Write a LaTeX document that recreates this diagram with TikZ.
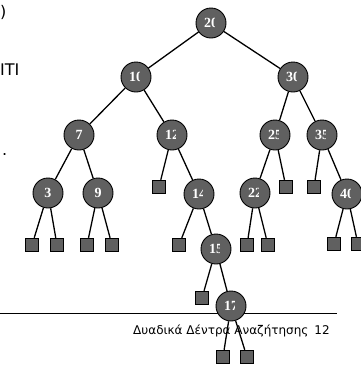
\documentclass[tikz,border=0pt]{standalone}
\usepackage{fontspec}
\setmainfont{Liberation Serif}
\newfontfamily\grk{DejaVu Sans}
\usetikzlibrary{calc}
\definecolor{nodegray}{RGB}{96,96,96}
\tikzset{
 keynode/.style={circle, draw=black, line width=0.9pt, fill=nodegray, minimum size=30pt, inner sep=0pt},
 leafnode/.style={rectangle, draw=black, line width=0.9pt, fill=nodegray, minimum size=13.5pt, inner sep=0pt},
 keytext/.style={text=white, font=\fontsize{14}{14}\selectfont\bfseries, inner sep=0pt},
 edge/.style={line width=1.3pt, black},
 slidetext/.style={font=\grk\fontsize{16}{16}\selectfont, inner sep=0pt, anchor=base west},
 foottext/.style={font=\grk\fontsize{12}{14}\selectfont, inner sep=0pt, anchor=base west},
}
\newcommand\keynd[3]{\node[keynode] (#1) at (#2) {};
 \begin{scope}
 \clip ($(#1.center)+(-14,-10)$) rectangle ($(#1.center)+(3,10)$);
 \node[keytext] at (#1.center) {#3};
 \end{scope}}
\begin{document}
\begin{tikzpicture}[x=1pt,y=-1pt]
\useasboundingbox (0,0) rectangle (361,365);
% slide fragments
\node[slidetext] (t1) at (0,17) {)};
\node[slidetext] (t2) at (0,75) {ΙΤΙ};
\node[slidetext] (t3) at (2,155) {.};
\draw[line width=0.8pt] (0,313) coordinate (f1) -- (337,313) coordinate (f2);
\node[foottext] (ft) at (133,334) {Δυαδικά Δέντρα Αναζήτησης\hspace{6pt}12};
% keys
\keynd{n20}{211,23}{20}
\keynd{n10}{136,77}{10}
\keynd{n30}{293,77}{30}
\keynd{n7}{79,135}{7}
\keynd{n12}{172,135}{12}
\keynd{n25}{275,135}{25}
\keynd{n35}{322,135}{35}
\keynd{n3}{48,193}{3}
\keynd{n9}{98,193}{9}
\keynd{n14}{199,194}{14}
\keynd{n22}{255,193}{22}
\keynd{n40}{347,194}{40}
\keynd{n15}{216,249}{15}
\keynd{n17}{231,306}{17}
% leaves
\node[leafnode] (a1) at (32,245) {};
\node[leafnode] (a2) at (57,245) {};
\node[leafnode] (a3) at (87,245) {};
\node[leafnode] (a4) at (112,245) {};
\node[leafnode] (l12) at (159,187) {};
\node[leafnode] (l14) at (179,245) {};
\node[leafnode] (l15) at (202,298) {};
\node[leafnode] (a5) at (223,357) {};
\node[leafnode] (a6) at (247,357) {};
\node[leafnode] (b1) at (247,245) {};
\node[leafnode] (b2) at (268,245) {};
\node[leafnode] (l25) at (286,187) {};
\node[leafnode] (l35) at (314,187) {};
\node[leafnode] (c1) at (334,244) {};
\node[leafnode] (c2) at (358,244) {};
% edges
\foreach \u/\v in {n20/n10,n20/n30,n10/n7,n10/n12,n30/n25,n30/n35,n7/n3,n7/n9,
  n3/a1,n3/a2,n9/a3,n9/a4,n12/l12,n12/n14,n14/l14,n14/n15,n15/l15,n15/n17,
  n17/a5,n17/a6,n25/n22,n25/l25,n22/b1,n22/b2,n35/l35,n35/n40,n40/c1,n40/c2}
  \draw[edge] (\u) -- (\v);
\end{tikzpicture}
\end{document}
